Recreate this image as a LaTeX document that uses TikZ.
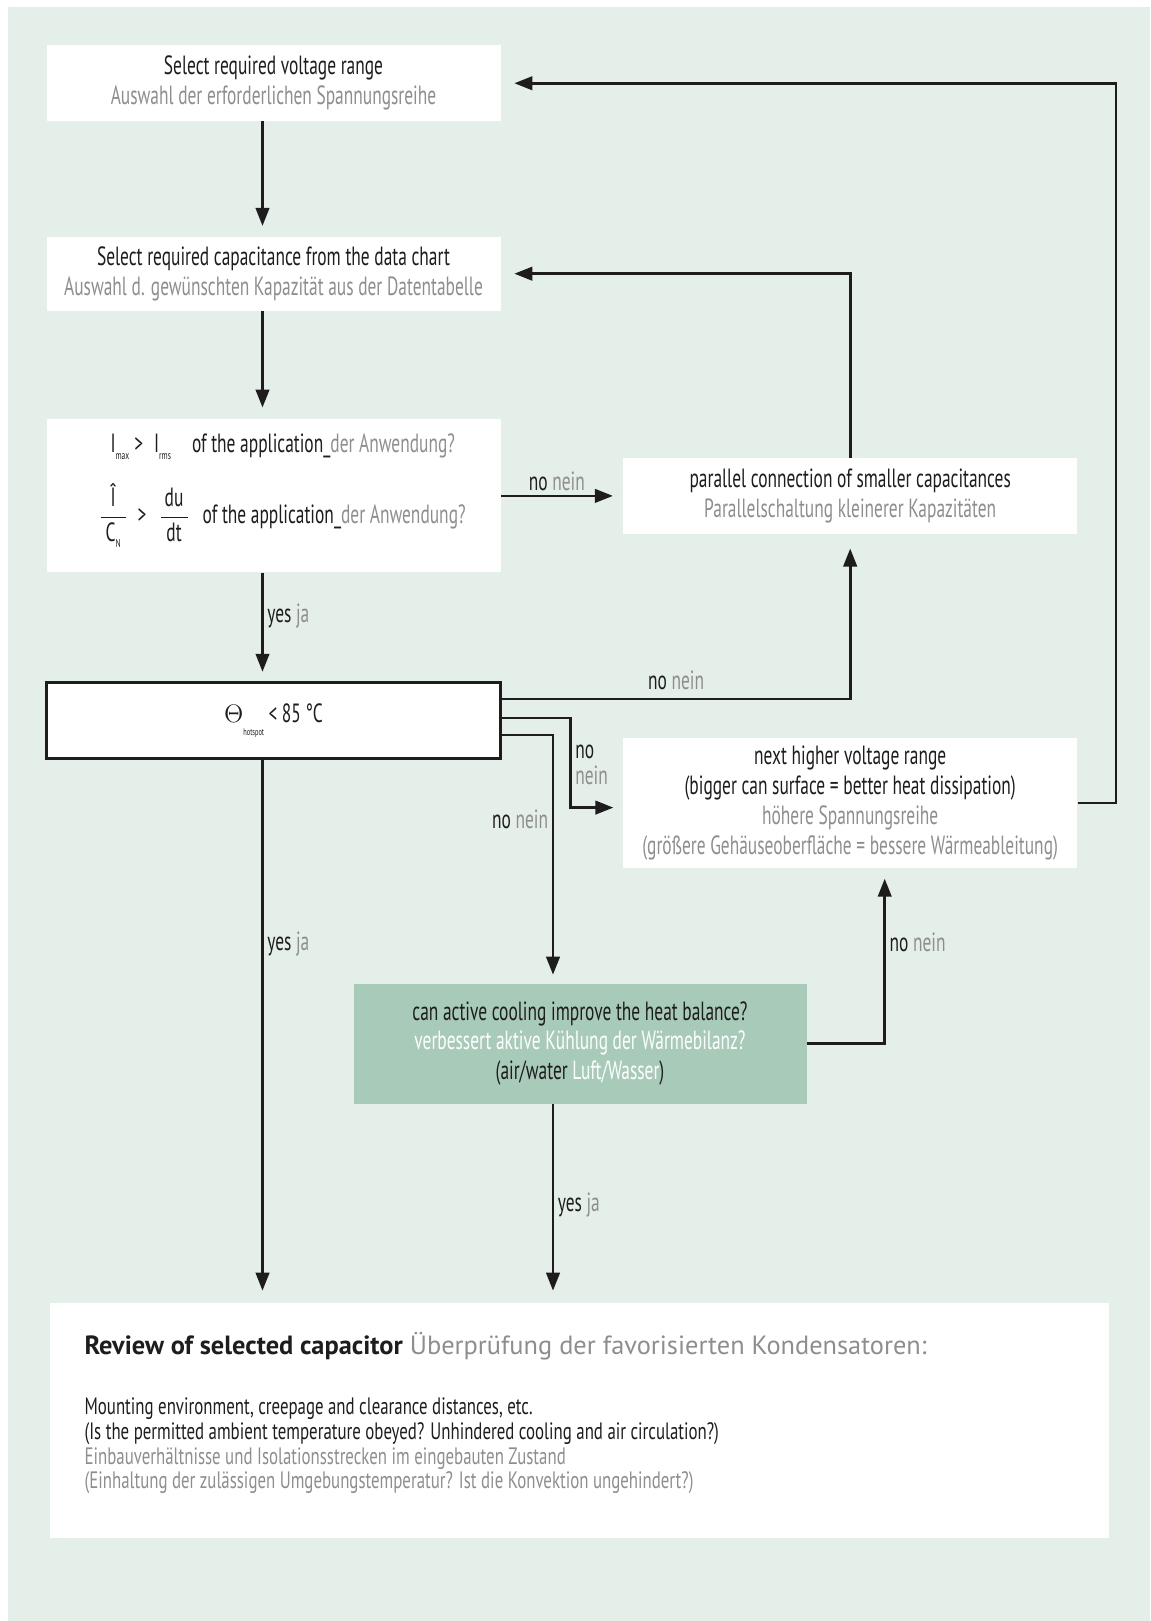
\documentclass[tikz,border=0pt]{standalone}
\usepackage{amsmath}
\usepackage{fontspec}
\setmainfont{PT Sans}[FakeStretch=0.66]
\newfontfamily\headfont{PT Sans}
\newfontfamily\bodyfont{PT Sans}[FakeStretch=0.71]
\usetikzlibrary{arrows.meta,positioning,calc}

\definecolor{bgmint}{HTML}{E4EFE9}
\definecolor{coolgreen}{HTML}{A7CBB8}
\definecolor{txtgrey}{HTML}{8E8E8E}
\definecolor{txtblack}{HTML}{1E1C1D}
\newcommand{\de}[1]{\textcolor{txtgrey}{#1}}
\newcommand{\lowsub}[1]{\raisebox{-0.5ex}{\fontsize{6.5}{6.5}\selectfont #1}}

\begin{document}
\begin{tikzpicture}[
  font=\fontsize{15}{17}\selectfont,
  text=txtblack,
  box/.style={rectangle, fill=white, minimum width=9.08cm, minimum height=1.51cm, align=center, inner sep=0pt},
  checkbox/.style={box, draw=txtblack, line width=1.7pt},
  coolbox/.style={box, fill=coolgreen, minimum width=9.06cm, minimum height=2.4cm},
  arr/.style={-{Triangle[length=0.36cm,width=0.27cm]}, line width=1.5pt, draw=txtblack},
  lbl/.style={inner sep=2pt, align=left}
]

% Background
\useasboundingbox (0,0) rectangle (23,-32.42);
\fill[bgmint] (0.16,-0.14) rectangle (23,-32.42);

% Left column
\node[box] (voltage) at (5.47,-1.665) {Select required voltage range\\\de{Auswahl der erforderlichen Spannungsreihe}};
\node[box, minimum height=1.48cm, below=2.3cm of voltage] (capacity) {Select required capacitance from the data chart\\\de{Auswahl d. gewünschten Kapazität aus der Datentabelle}};
\node[box, minimum height=3.06cm, below=2.16cm of capacity] (current) {};
\node[anchor=west, inner sep=0pt] (imax) at ([xshift=1.28cm,yshift=0.98cm]current.west) {I\lowsub{max}\hspace{0.1cm}>\hspace{0.22cm}I\lowsub{rms}\hspace{0.42cm}of the application\_\de{der Anwendung?}};
\node[anchor=west, inner sep=0pt] (dudt) at ([xshift=1.04cm,yshift=-0.4cm]current.west) {$\dfrac{\makebox[0.5cm]{Î}}{\makebox[0.5cm]{C\lowsub{N}}}$\hspace{0.2cm}>\hspace{0.24cm}$\dfrac{\makebox[0.54cm]{du}}{\makebox[0.54cm]{dt}}$\hspace{0.26cm}of the application\_\de{der Anwendung?}};
\node[checkbox, below=2.17cm of capacity.south|-current.south] (hotspot) {$\Theta$\raisebox{-1ex}{\fontsize{5.5}{5.5}\selectfont hotspot}\,< 85 °C};

% Right column
\node[box, right=2.44cm of current] (parallel) {parallel connection of smaller capacitances\\\de{Parallelschaltung kleinerer Kapazitäten}};
\node[box, minimum height=2.61cm, below=4.07cm of parallel] (higher) {next higher voltage range\\(bigger can surface = better heat dissipation)\\\de{höhere Spannungsreihe}\\\de{(größere Gehäuseoberfläche = bessere Wärmeableitung)}};
\node[coolbox] (cooling) at (11.6,-20.87) {can active cooling improve the heat balance?\\\textcolor{white}{verbessert aktive Kühlung der Wärmebilanz?}\\(air/water \textcolor{white}{Luft/Wasser})};

% Review
\node[box, minimum width=21.18cm, minimum height=4.7cm] (review) at (11.582,-28.41) {};
\node[anchor=base west, inner sep=0pt, font=\headfont\fontsize{15}{17}\selectfont] (reviewtitle) at ([xshift=0.7cm,yshift=-1.04cm]review.north west) {\textbf{Review of selected capacitor} \de{Überprüfung der favorisierten Kondensatoren:}};
\node[anchor=north west, inner sep=0pt, align=left, font=\bodyfont\fontsize{13.5}{14}\selectfont] (reviewtext) at ([yshift=-0.86cm]reviewtitle.base west) {Mounting environment, creepage and clearance distances, etc.\\(Is the permitted ambient temperature obeyed? Unhindered cooling and air circulation?)\\\de{Einbauverhältnisse und Isolationsstrecken im eingebauten Zustand}\\\de{(Einhaltung der zulässigen Umgebungstemperatur? Ist die Konvektion ungehindert?)}};

% Arrows
\draw[arr, shorten >=0.21cm] ([xshift=-0.22cm]voltage.south) -- ([xshift=-0.22cm]capacity.north);
\draw[arr, shorten >=0.23cm] ([xshift=-0.22cm]capacity.south) -- ([xshift=-0.22cm]current.north);
\draw[arr, shorten >=0.19cm] ([xshift=-0.22cm]current.south) -- node[lbl, right, pos=0.4] {yes \de{ja}} ([xshift=-0.22cm]hotspot.north);
\draw[arr, shorten >=0.2cm] (current.east) -- node[lbl, above, xshift=-0.1cm] {no \de{nein}} (parallel.west);
\draw[arr, shorten >=0.27cm] (parallel.north) |- (capacity.east);
\draw[arr, shorten >=0.27cm] (higher.east) -- ++(0.77,0) |- (voltage.east);
\draw[arr, shorten >=0.29cm] ([yshift=0.43cm]hotspot.east) -| node[lbl, above, pos=0.25, yshift=0.08cm] {no \de{nein}} (parallel.south);
\draw[arr, shorten >=0.19cm] ([yshift=0.05cm]hotspot.east) -- ++(1.37,0) |- node[lbl, right, pos=0.26] {no\\[-2pt]\de{nein}} ([yshift=-0.09cm]higher.west);
\draw[arr, shorten >=0.17cm] ([yshift=-0.29cm]hotspot.east) -| node[lbl, left, pos=0.67] {no \de{nein}} ([xshift=-0.54cm]cooling.north);
\draw[arr, shorten >=0.2cm] (cooling.east) -| node[lbl, right, pos=0.79] {no \de{nein}} ([xshift=0.69cm]higher.south);
\draw[arr, shorten >=0.24cm] ([xshift=-0.22cm]hotspot.south) -- node[lbl, right, pos=0.34] {yes \de{ja}} ([xshift=-0.22cm]hotspot.south|-review.north);
\draw[arr, shorten >=0.24cm] ([xshift=-0.54cm]cooling.south) -- node[lbl, right, pos=0.51] {yes \de{ja}} ([xshift=-0.54cm]cooling.south|-review.north);

\end{tikzpicture}
\end{document}
